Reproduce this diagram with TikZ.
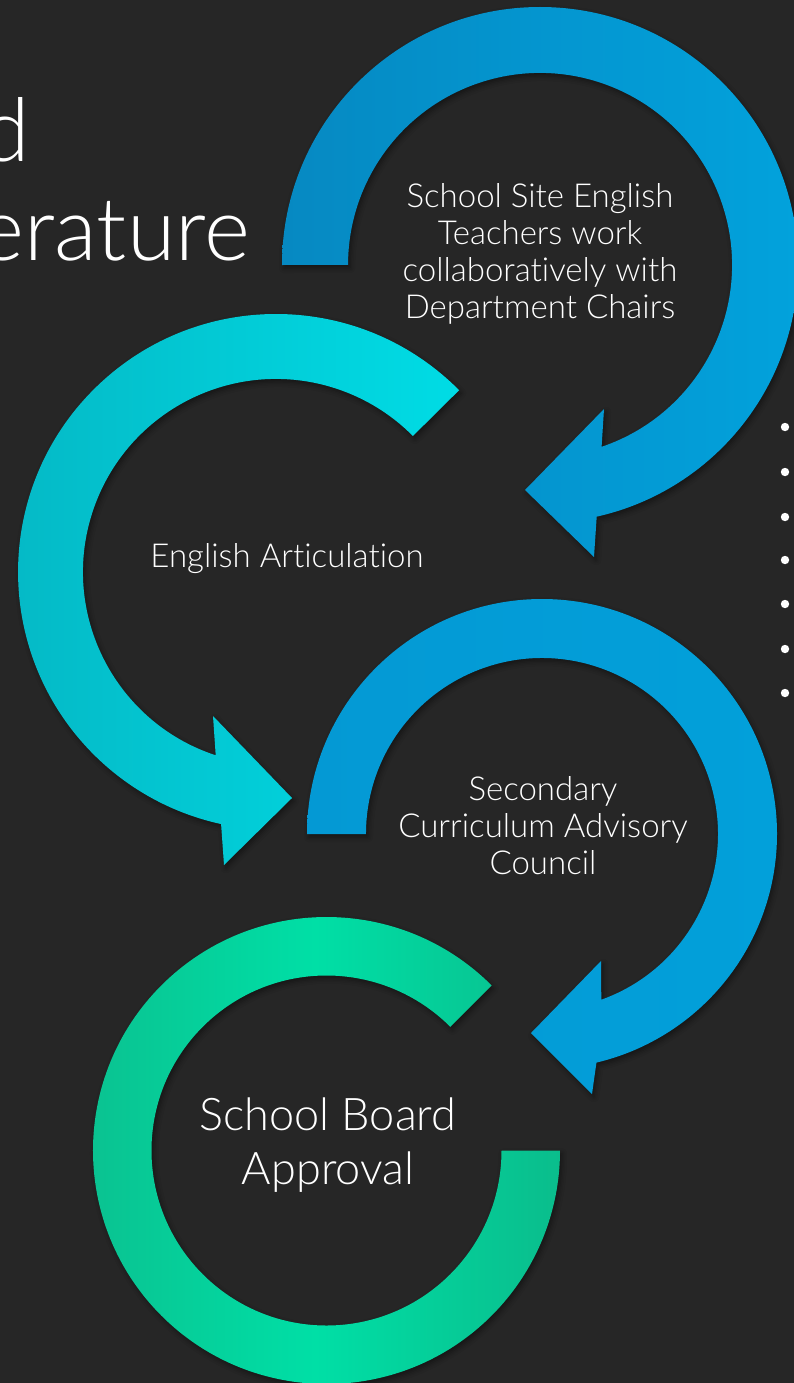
\documentclass[tikz,border=0pt]{standalone}
\usepackage{fontspec}
\setmainfont{Lato Light}[Ligatures=NoCommon]
\usetikzlibrary{shadows.blur}

\definecolor{bg}{HTML}{262626}
\definecolor{blueA}{HTML}{0689C2}
\definecolor{blueB}{HTML}{02A2DC}
\definecolor{cyanA}{HTML}{05B8C5}
\definecolor{cyanB}{HTML}{00DCE5}
\definecolor{midA}{HTML}{0499D4}
\definecolor{midB}{HTML}{02A0DA}
\definecolor{greenA}{HTML}{0BC08F}
\definecolor{greenB}{HTML}{00DFA6}
\definecolor{greenC}{HTML}{0ABD8C}

\tikzset{
  ring/.style={blur shadow={shadow xshift=2pt, shadow yshift=-3pt,
      shadow blur radius=5pt, shadow opacity=45}},
  label/.style={text=white, align=center, inner sep=0pt,
      font=\fontsize{33}{37}\selectfont},
  biglabel/.style={text=white, align=center, inner sep=0pt,
      font=\fontsize{45}{54}\selectfont},
  title/.style={text=white, inner sep=0pt, font=\fontsize{88}{98}\selectfont},
  dot/.style={fill=white, draw=none}
}

\begin{document}
\begin{tikzpicture}[x=1pt, y=-1pt]
  % page and background
  \fill[bg] (0,0) rectangle (794,1383);
  \useasboundingbox (0,0) rectangle (794,1383);
  \clip (0,0) rectangle (794,1383);

  % title fragments at the left edge
  \node[title, anchor=base east] (t1) at (30,162) {d};
  \node[title, anchor=base east] (t2) at (250,260) {erature};

  % bullets at the right edge
  \foreach \yy [count=\i] in {427,472,517,560,604,649,693}
    \fill[dot] (785,\yy) circle[radius=4.2];

  % step 1: blue arc, clockwise, head pointing lower left
  \shade[ring, left color=blueA, right color=blueB]
    (282,265) arc[start angle=180, end angle=437.3, radius=258]
    -- (594,557) -- (525,490) -- (604,409) -- (601.6,446.8)
    arc[start angle=431.3, end angle=180, radius=192] -- cycle;

  % step 2: cyan arc, anticlockwise, head pointing right
  \shade[ring, left color=cyanA, right color=cyanB]
    (459.1,390.2) arc[start angle=-44.8, end angle=-257.7, radius=258]
    -- (224,865) -- (292,798) -- (213,716) -- (215.7,755.3)
    arc[start angle=-251.8, end angle=-44.8, radius=193] -- cycle;

  % step 3: blue arc, clockwise, head pointing lower left
  \shade[ring, left color=midA, right color=midB]
    (307,834) arc[start angle=180, end angle=436.6, radius=235]
    -- (592,1094) -- (531,1033) -- (601,961) -- (601.3,999.7)
    arc[start angle=430.3, end angle=180, radius=176] -- cycle;

  % step 4: green open ring, darker at both sides
  \shade[ring, left color=greenA, right color=greenC, middle color=greenB]
    (491.6,985.4) arc[start angle=-45, end angle=-360, radius=233.5]
    -- (501.5,1150.5)
    arc[start angle=-360, end angle=-45, radius=175] -- cycle;

  % step labels
  \node[label] (s1) at (540,254)
    {School Site English\\Teachers work\\collaboratively with\\Department Chairs};
  \node[label, anchor=base] (s2) at (287,567) {English Articulation};
  \node[label] (s3) at (543,826) {Secondary\\Curriculum Advisory\\Council};
  \node[biglabel] (s4) at (328,1145) {School Board\\Approval};
\end{tikzpicture}
\end{document}
